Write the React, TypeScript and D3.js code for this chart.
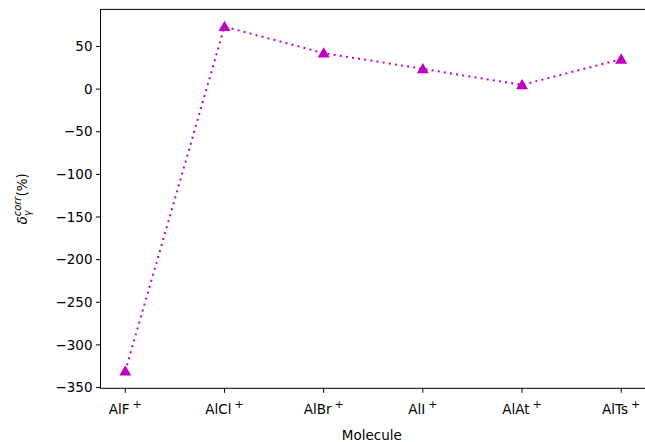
import React from "react";
import * as d3 from "d3";

const molecules = ["AlF", "AlCl", "AlBr", "AlI", "AlAt", "AlTs"];
const deltaCorr = [-330.7, 73.3, 42.2, 23.8, 5.0, 35.1];
const yTicks = [50, 0, -50, -100, -150, -200, -250, -300, -350];

const W = 645, H = 442;
const left = 100.5, right = 646, top = 9.4, bottom = 388.3;
const color = "#bf00bf";
const font = "DejaVu Sans, sans-serif";

export default function App() {
  const x = d3.scaleLinear().domain([-0.25, molecules.length - 0.75]).range([left, right]);
  const y = d3.scaleLinear().domain([-350.9, 93.5]).range([bottom, top]);
  const pts: [number, number][] = deltaCorr.map((v, i) => [x(i), y(v)]);
  const line = d3.line()(pts) || "";
  const tri = d3.symbol().type(d3.symbolTriangle).size(62)() || "";
  return (
    <div style={{ position: "fixed", left: 0, top: 0 }}>
      <svg width={W} height={H} style={{ display: "block", background: "#fff" }} fontFamily={font}>
        <path d={line} fill="none" stroke={color} strokeWidth={2} strokeDasharray="2,4.2" />
        {pts.map((p, i) => (
          <path key={i} d={tri} transform={`translate(${p[0]},${p[1] + 1})`} fill={color} />
        ))}
        <rect x={left} y={top} width={right - left} height={bottom - top} fill="none" stroke="#000" strokeWidth={1} />
        {yTicks.map((t) => (
          <g key={t} transform={`translate(${left},${y(t)})`}>
            <line x1={-4.5} x2={0} stroke="#000" strokeWidth={1} />
            <text x={-8} dy="0.35em" textAnchor="end" fontSize={13.5} fill="#000">
              {t < 0 ? "\u2212" + Math.abs(t) : String(t)}
            </text>
          </g>
        ))}
        {molecules.map((m, i) => (
          <g key={m} transform={`translate(${x(i)},${bottom})`}>
            <line y1={0} y2={4.5} stroke="#000" strokeWidth={1} />
            <text y={26} textAnchor="middle" fontSize={13.5} fill="#000">
              {m}
              <tspan dx={3} dy={-6} fontSize={11}>+</tspan>
            </text>
          </g>
        ))}
        <text x={(left + 643) / 2} y={440} textAnchor="middle" fontSize={13.5} fill="#000">Molecule</text>
        <text transform={`translate(27,${(top + bottom) / 2}) rotate(-90)`} textAnchor="middle" fontSize={13.5} fill="#000">
          <tspan fontStyle="italic">δ</tspan>
          <tspan fontStyle="italic" fontSize={10} dy={4}>γ</tspan>
          <tspan fontStyle="italic" fontSize={10} dx={-6} dy={-10}>corr</tspan>
          <tspan dy={6}>(%)</tspan>
        </text>
      </svg>
    </div>
  );
}
